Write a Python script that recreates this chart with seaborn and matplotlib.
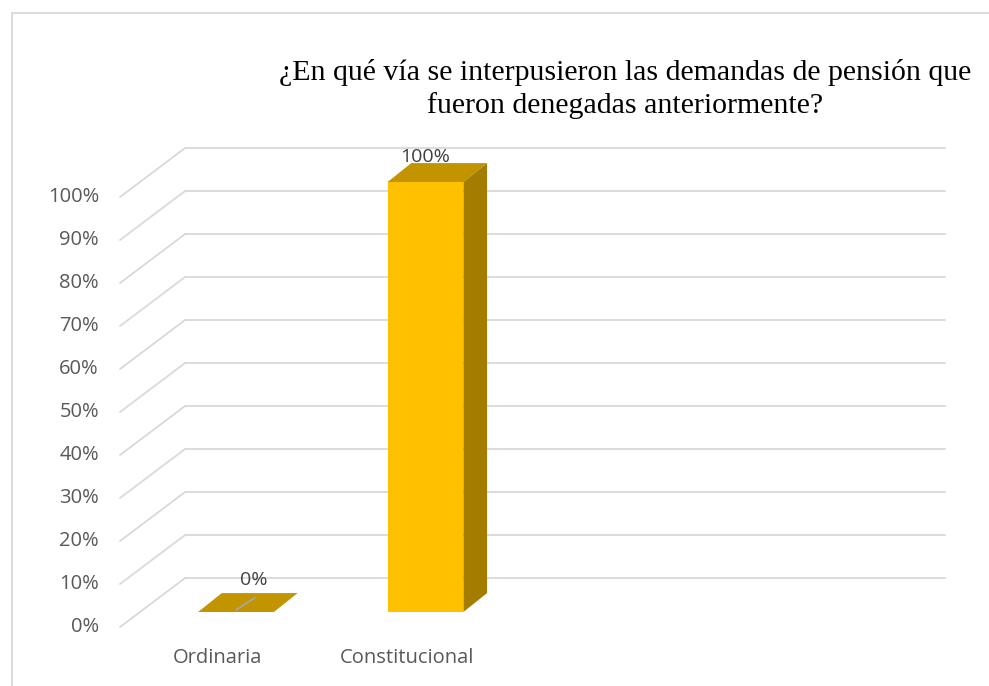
import matplotlib
matplotlib.use('Agg')
import matplotlib.pyplot as plt
import seaborn as sns
import pandas as pd
from matplotlib.patches import Polygon, Rectangle

# Data
categories = ['Ordinaria', 'Constitucional']
values = [0, 100]
tick_values = [0, 10, 20, 30, 40, 50, 60, 70, 80, 90, 100]
title = '¿En qué vía se interpusieron las demandas de pensión que\nfueron denegadas anteriormente?'

sns.set_theme(style='white')
plt.rcParams['font.family'] = ['Open Sans', 'DejaVu Sans']

# Colors
front_col = '#FFC000'
top_col = '#C29500'
side_col = '#A47D00'
grid_col = '#D9D9D9'
text_col = '#595959'

# 3D offsets (data units)
bar_dx, bar_dy = 0.125, 4.4          # depth of bars
wall_dy = 7.9                        # back wall above bar base
front_dy = -3.49                     # front plane below bar base
wall_x0, wall_x1 = -0.269, 3.74
front_x0 = -0.612

fig = plt.figure(figsize=(9.89, 6.86), dpi=100)
ax = fig.add_axes([0, 0, 1, 1])

df = pd.DataFrame({'cat': categories, 'val': values})
sns.barplot(data=df, x='cat', y='val', color=front_col, width=0.4,
            saturation=1, ax=ax, zorder=3, edgecolor='none')

# back wall gridlines and left side diagonals
for v in tick_values:
    ax.plot([wall_x0, wall_x1], [v + wall_dy, v + wall_dy], color=grid_col, lw=1.3, zorder=1)
    ax.plot([front_x0, wall_x0], [v + front_dy, v + wall_dy], color=grid_col, lw=1.3, zorder=1)
    ax.text(-0.723, v + front_dy, f'{v}%', ha='right', va='center',
            fontsize=14.5, color=text_col)

# 3D faces of the bars
for i, v in enumerate(values):
    x0, x1 = i - 0.2, i + 0.2
    top = Polygon([(x0, v), (x1, v), (x1 + bar_dx, v + bar_dy), (x0 + bar_dx, v + bar_dy)],
                  closed=True, facecolor=top_col, edgecolor='none', zorder=4)
    ax.add_patch(top)
    if v > 0:
        side = Polygon([(x1, 0), (x1, v), (x1 + bar_dx, v + bar_dy), (x1 + bar_dx, bar_dy)],
                       closed=True, facecolor=side_col, edgecolor='none', zorder=4)
        ax.add_patch(side)
        ax.text(i, v + 5.8, f'{v}%', ha='center', va='center', fontsize=14, color='#404040', zorder=5)
    else:
        # leader line for the flat bar
        ax.plot([i, i + 0.1], [v + 0.5, v + 3.3], color='#A6A6A6', lw=1.3, zorder=5)
        ax.text(i + 0.095, v + 7.4, f'{v}%', ha='center', va='center', fontsize=14, color='#404040', zorder=5)
    ax.text(i - 0.1, -10.7, categories[i], ha='center', va='center', fontsize=14.5, color=text_col)

ax.set_xlim(-1.2454, 3.9736)
ax.set_ylim(-17.21, 142.33)
ax.axis('off')

# chart border
fig.add_artist(Rectangle((12 / 989, -0.1), 1.2, 673 / 686 + 0.1, transform=fig.transFigure,
                         fill=False, edgecolor='#D9D9D9', lw=1.3))

fig.text(625 / 989, 1 - 89 / 686, title, ha='center', va='center', fontsize=21.5,
         family=['Liberation Serif', 'DejaVu Serif'], color='#000000', linespacing=1.25)

fig.savefig('out.png', dpi=100)
